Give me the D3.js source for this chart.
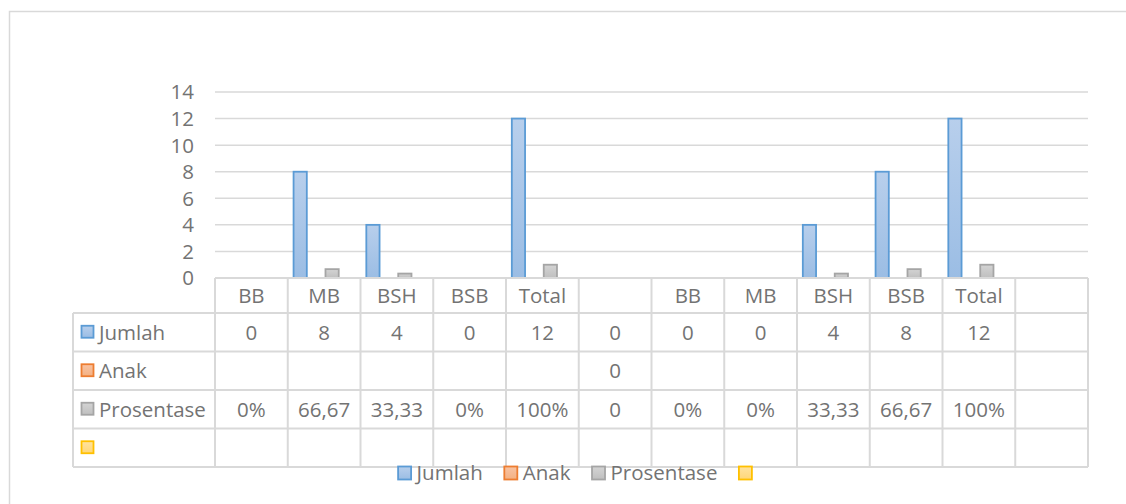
<!DOCTYPE html>
<html>
<head>
<meta charset="utf-8">
<script src="https://cdn.jsdelivr.net/npm/d3@7"></script>
<style>
  body { margin: 0; background: #fff; }
  text { font-family: "Open Sans", sans-serif; fill: #737373; font-size: 20.5px; }
</style>
</head>
<body>
<div id="chart"></div>
<script>
const categories = ["BB", "MB", "BSH", "BSB", "Total", "", "BB", "MB", "BSH", "BSB", "Total", ""];
const seriesNames = ["Jumlah", "Anak", "Prosentase", ""];
const jumlah = [0, 8, 4, 0, 12, 0, 0, 0, 4, 8, 12, null];
const anak = [null, null, null, null, null, 0, null, null, null, null, null, null];
const prosentase = [0, 0.6667, 0.3333, 0, 1, 0, 0, 0, 0.3333, 0.6667, 1, null];
const jumlahLabels = ["0", "8", "4", "0", "12", "0", "0", "0", "4", "8", "12", ""];
const anakLabels = ["", "", "", "", "", "0", "", "", "", "", "", ""];
const prosentaseLabels = ["0%", "66,67", "33,33", "0%", "100%", "0", "0%", "0%", "33,33", "66,67", "100%", ""];
const blankLabels = ["", "", "", "", "", "", "", "", "", "", "", ""];
const yTicks = [0, 2, 4, 6, 8, 10, 12, 14];

const width = 1126, height = 504;
const plot = { left: 215, right: 1088, top: 92, bottom: 278 };
const labelLeft = 73;
const headerH = 35, rowH = 38.5;

const colors = [
  { fill: ["#b8cfec", "#9bbde4"], stroke: "#5b9bd5" },
  { fill: ["#f8c3a3", "#f4b183"], stroke: "#ed7d31" },
  { fill: ["#d4d4d4", "#bfbfbf"], stroke: "#a5a5a5" },
  { fill: ["#ffe3a0", "#ffd778"], stroke: "#ffc000" }
];

const svg = d3.select("#chart")
  .append("svg")
  .attr("width", width)
  .attr("height", height);

const defs = svg.append("defs");
colors.forEach((c, i) => {
  const g = defs.append("linearGradient")
    .attr("id", "grad" + i)
    .attr("x1", 0).attr("y1", 0).attr("x2", 0).attr("y2", 1);
  g.append("stop").attr("offset", "0%").attr("stop-color", c.fill[0]);
  g.append("stop").attr("offset", "100%").attr("stop-color", c.fill[1]);
});

// outer chart frame
svg.append("rect")
  .attr("x", 9.5).attr("y", 11.5)
  .attr("width", width + 20).attr("height", height + 20)
  .attr("fill", "none")
  .attr("stroke", "#d9d9d9")
  .attr("stroke-width", 1.5);

const x0 = d3.scaleBand()
  .domain(d3.range(categories.length))
  .range([plot.left, plot.right]);

const x1 = d3.scaleBand()
  .domain(d3.range(seriesNames.length))
  .range([x0.bandwidth() * 0.08, x0.bandwidth() * 0.92])
  .paddingInner(0.17);

const y = d3.scaleLinear()
  .domain([0, 14])
  .range([plot.bottom, plot.top]);

// gridlines
svg.append("g")
  .selectAll("line")
  .data(yTicks.filter(d => d > 0))
  .join("line")
  .attr("x1", plot.left).attr("x2", plot.right)
  .attr("y1", d => y(d)).attr("y2", d => y(d))
  .attr("stroke", "#d9d9d9")
  .attr("stroke-width", 1.5);

// y labels
svg.append("g")
  .selectAll("text")
  .data(yTicks)
  .join("text")
  .attr("x", 194)
  .attr("y", d => y(d))
  .attr("dy", "0.36em")
  .attr("text-anchor", "end")
  .text(d => d);

// bars
const seriesValues = [jumlah, anak, prosentase, []];
const bars = [];
seriesValues.forEach((vals, s) => {
  vals.forEach((v, i) => {
    if (v != null && v > 0) bars.push({ s, i, v });
  });
});

svg.append("g")
  .selectAll("rect")
  .data(bars)
  .join("rect")
  .attr("x", d => x0(d.i) + x1(d.s))
  .attr("y", d => y(d.v))
  .attr("width", x1.bandwidth())
  .attr("height", d => y(0) - y(d.v))
  .attr("fill", d => `url(#grad${d.s})`)
  .attr("stroke", d => colors[d.s].stroke)
  .attr("stroke-width", 1.8);

// data table
const tableRows = [jumlahLabels, anakLabels, prosentaseLabels, blankLabels];
const tableTop = plot.bottom;
const rowTop = i => tableTop + headerH + i * rowH;
const tableBottom = rowTop(tableRows.length);
const grid = svg.append("g")
  .attr("stroke", "#d9d9d9")
  .attr("stroke-width", 2);

grid.append("line")
  .attr("x1", plot.left).attr("x2", plot.right)
  .attr("y1", tableTop).attr("y2", tableTop);

grid.selectAll(".h")
  .data(d3.range(tableRows.length + 1))
  .join("line")
  .attr("x1", labelLeft).attr("x2", plot.right)
  .attr("y1", d => rowTop(d)).attr("y2", d => rowTop(d));

grid.selectAll(".v")
  .data(d3.range(categories.length + 1))
  .join("line")
  .attr("x1", d => plot.left + d * x0.step())
  .attr("x2", d => plot.left + d * x0.step())
  .attr("y1", tableTop).attr("y2", tableBottom);

grid.append("line")
  .attr("x1", labelLeft).attr("x2", labelLeft)
  .attr("y1", rowTop(0)).attr("y2", tableBottom);

// header labels
svg.append("g")
  .selectAll("text")
  .data(categories)
  .join("text")
  .attr("x", (d, i) => x0(i) + x0.bandwidth() / 2)
  .attr("y", tableTop + headerH / 2)
  .attr("dy", "0.36em")
  .attr("text-anchor", "middle")
  .text(d => d);

// row labels with keys
tableRows.forEach((row, r) => {
  const cy = rowTop(r) + rowH / 2;
  svg.append("rect")
    .attr("x", 81.5).attr("y", cy - 6.5)
    .attr("width", 12).attr("height", 12)
    .attr("fill", `url(#grad${r})`)
    .attr("stroke", colors[r].stroke)
    .attr("stroke-width", 1.8);
  svg.append("text")
    .attr("x", 99)
    .attr("y", cy)
    .attr("dy", "0.36em")
    .text(seriesNames[r]);
  svg.append("g")
    .selectAll("text")
    .data(row)
    .join("text")
    .attr("x", (d, i) => x0(i) + x0.bandwidth() / 2)
    .attr("y", cy)
    .attr("dy", "0.36em")
    .attr("text-anchor", "middle")
    .text(d => d);
});

// legend
const legend = svg.append("g");
let lx = 0;
seriesNames.forEach((name, i) => {
  const item = legend.append("g").attr("transform", `translate(${lx},0)`);
  item.append("rect")
    .attr("x", 0.5).attr("y", -6.5)
    .attr("width", 13).attr("height", 13)
    .attr("fill", `url(#grad${i})`)
    .attr("stroke", colors[i].stroke)
    .attr("stroke-width", 1.8);
  const t = item.append("text")
    .attr("x", 19)
    .attr("dy", "0.36em")
    .text(name);
  const w = name ? t.node().getComputedTextLength() : 0;
  lx += 19 + w + 21;
});
const legendW = lx - 21 - 5;
legend.attr("transform", `translate(${575 - legendW / 2},473)`);
</script>
</body>
</html>
